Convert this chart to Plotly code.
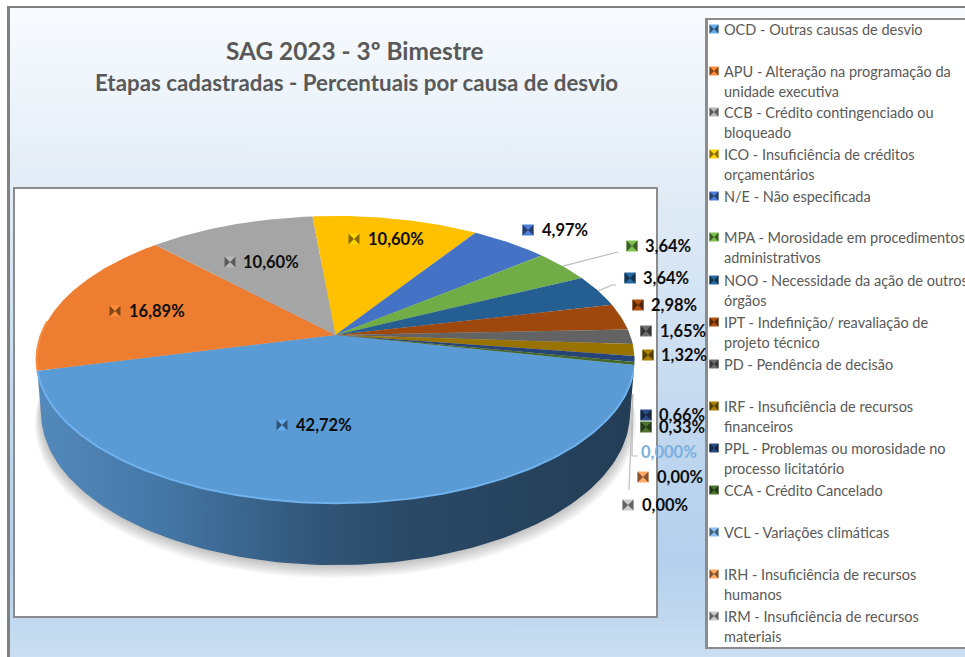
import math
import numpy as np
import plotly.graph_objects as go

# ---------- data ----------
LEGEND_LABELS = [
    "OCD - Outras causas de desvio",
    "APU - Alteração na programação da<br>unidade executiva",
    "CCB - Crédito contingenciado ou<br>bloqueado",
    "ICO - Insuficiência de créditos<br>orçamentários",
    "N/E - Não especificada",
    "MPA - Morosidade em procedimentos<br>administrativos",
    "NOO - Necessidade da ação de outros<br>órgãos",
    "IPT - Indefinição/ reavaliação de<br>projeto técnico",
    "PD - Pendência de decisão",
    "IRF - Insuficiência de recursos<br>financeiros",
    "PPL - Problemas ou morosidade no<br>processo licitatório",
    "CCA - Crédito Cancelado",
    "VCL - Variações climáticas",
    "IRH - Insuficiência de recursos<br>humanos",
    "IRM - Insuficiência de recursos<br>materiais",
]
VALUES = [42.72, 16.89, 10.60, 10.60, 4.97, 3.64, 3.64, 2.98, 1.65, 1.32, 0.66, 0.33, 0.0, 0.0, 0.0]
VALUE_LABELS = ["42,72%", "16,89%", "10,60%", "10,60%", "4,97%", "3,64%", "3,64%", "2,98%",
                "1,65%", "1,32%", "0,66%", "0,33%", "0,000%", "0,00%", "0,00%"]
TITLE = "SAG 2023 - 3º Bimestre"
SUBTITLE = "Etapas cadastradas - Percentuais por causa de desvio"

# ---------- style ----------
COLORS = ["#5B9BD5", "#ED7D31", "#A5A5A5", "#FFC000", "#4472C4", "#70AD47", "#255E91", "#9E480E",
          "#636363", "#997300", "#264478", "#43682B", "#7CAFDD", "#F1975A", "#B7B7B7"]
FONT = "Lato"
W, H_PAGE = 965, 657
CX, CY, R, H, K = 335.5, 335, 294.6, 139.4, 0.171
DEPTH, BOTTOM_SCALE = 51.4, 0.985
START_DEG = 102.0

# label layout: marker x, text x, y
LABEL_POS = [(282, 294, 425), (115, 127, 311), (230, 241, 262), (354, 366, 239), (528, 540, 230),
             (632, 643, 246), (630, 641, 278), (638, 649, 305), (646, 658, 331), (648, 659, 355),
             (646, 657, 415), (646, 657, 427), (None, 639, 452), (643, 655, 477), (628, 640, 505)]
LEGEND_Y = [29, 71, 112, 154, 196, 237, 280, 322, 364, 406, 448, 490, 532, 574, 616]
LINE_H = 20


def proj(theta_deg, depth=0.0, scale=1.0):
    t = np.radians(theta_deg)
    u, v = np.sin(t), np.cos(t)
    s = 1.0 / (1.0 + K * v)
    x = R * u * s * scale
    y = -H * v * s + depth * s
    return CX + x, CY + y


def shade(hexc, f):
    r, g, b = int(hexc[1:3], 16), int(hexc[3:5], 16), int(hexc[5:7], 16)
    return "#%02x%02x%02x" % tuple(int(min(255, max(0, c * f))) for c in (r, g, b))


def rect(x0, y0, x1, y1):
    return [x0, x1, x1, x0, x0], [y0, y0, y1, y1, y0]


fig = go.Figure()


def add_poly(xs, ys, **kw):
    fig.add_trace(go.Scatter(x=list(xs), y=list(ys), mode="lines", fill="toself",
                             line=dict(width=0), hoverinfo="skip", showlegend=False, **kw))


# ---------- panels ----------
x, y = rect(7, 6, 965, 657)
add_poly(x, y, fillcolor="#808080")
x, y = rect(10, 8, 965, 657)
add_poly(x, y, fillgradient=dict(type="vertical", colorscale=[
    [0, "#cbdff2"], [0.06, "#c0d8ef"], [0.15, "#b4d0ec"], [0.3, "#bdd5ee"], [0.7, "#e0ebf6"], [1, "#f8fbfe"]]))
x, y = rect(13, 187, 658, 618)
add_poly(x, y, fillcolor="#8c8c8c")
x, y = rect(15, 189, 656, 616)
add_poly(x, y, fillcolor="#ffffff")
x, y = rect(705, 18, 965, 649)
add_poly(x, y, fillcolor="#8c8c8c")
x, y = rect(708, 20, 965, 647)
add_poly(x, y, fillcolor="#ffffff")

# ---------- pie geometry from the values ----------
total = sum(VALUES)
spans = [v / total * 360 for v in VALUES]
edges = START_DEG + np.concatenate([[0], np.cumsum(spans)])

# soft shadow below the wall
full = np.linspace(0, 360, 241)
for i in range(8):
    gx, gy = proj(full, DEPTH + 1 + 1.4 * i, BOTTOM_SCALE + 0.003 * i)
    add_poly(gx, gy, fillcolor="rgba(0,0,0,0.03)")

# side wall, visible part of the rim only
vis0 = math.degrees(math.acos(-K))
vis1 = 360 - vis0
for i in range(len(VALUES)):
    a0, a1 = max(edges[i], vis0), min(edges[i + 1], vis1)
    if a1 <= a0:
        continue
    th = np.linspace(a0, a1, 120)
    tx, ty = proj(th)
    bx, by = proj(th[::-1], DEPTH, BOTTOM_SCALE)
    xs, ys = np.concatenate([tx, bx, tx[:1]]), np.concatenate([ty, by, ty[:1]])
    if i == 0:
        add_poly(xs, ys, fillgradient=dict(type="horizontal", colorscale=[
            [0, "#5489bc"], [0.2, "#4578a7"], [0.45, "#33587b"], [0.6, "#2a4a68"], [1, "#233d55"]]))
    else:
        add_poly(xs, ys, fillcolor=shade(COLORS[i], 0.55))

# top face slices
for i, v in enumerate(VALUES):
    if v <= 0:
        continue
    th = np.linspace(edges[i], edges[i + 1], max(4, int(spans[i] * 2)))
    px, py = proj(th)
    add_poly(np.concatenate([[CX], px, [CX]]), np.concatenate([[CY], py, [CY]]), fillcolor=COLORS[i])

# bevel highlights on the rim
th = np.linspace(edges[0] + 3, edges[1], 160)
px, py = proj(th)
fig.add_trace(go.Scatter(x=px, y=py, mode="lines", line=dict(color="#6fb2ee", width=2),
                         hoverinfo="skip", showlegend=False))
th = np.linspace(edges[1], edges[1] + 20, 40)
px, py = proj(th)
fig.add_trace(go.Scatter(x=px, y=py, mode="lines", line=dict(color="#f78d3f", width=2),
                         hoverinfo="skip", showlegend=False))

# ---------- leader lines ----------
GREY = "#bdbdbd"
mx, my = proj((edges[5] + edges[6]) / 2)
nx, ny = proj((edges[6] + edges[7]) / 2)
zx, zy = proj(edges[12], DEPTH * 0.55, 0.995)
LEADERS = [([mx, 618], [my, 252]), ([nx, 612, 616], [ny, 285, 285]),
           ([zx, 632, 638], [zy, 456, 456]), ([zx, 629], [zy, 490])]
for lx, ly in LEADERS:
    fig.add_trace(go.Scatter(x=lx, y=ly, mode="lines", line=dict(color=GREY, width=1.2),
                             hoverinfo="skip", showlegend=False))


# ---------- keys ----------
def add_keys(xs, ys, cols, size):
    fig.add_trace(go.Scatter(x=xs, y=ys, mode="markers", hoverinfo="skip", showlegend=False,
                             marker=dict(symbol="square", size=size, color=[shade(c, 1.12) for c in cols])))
    fig.add_trace(go.Scatter(x=xs, y=ys, mode="markers", hoverinfo="skip", showlegend=False,
                             marker=dict(symbol="bowtie", size=size, color=[shade(c, 0.55) for c in cols],
                                         line=dict(width=0))))


lab = [(p, c) for p, c in zip(LABEL_POS, COLORS) if p[0] is not None]
add_keys([p[0] for p, _ in lab], [p[2] for p, _ in lab], [c for _, c in lab], 11)
add_keys([714] * len(COLORS), LEGEND_Y, COLORS, 9)

# ---------- text ----------
ann = []
for txt, (_, tx, ty), col in zip(VALUE_LABELS, LABEL_POS, COLORS):
    is_light = txt == "0,000%"
    ann.append(dict(x=tx, y=ty, text=txt, xanchor="left", yanchor="middle", showarrow=False,
                    xref="x", yref="y",
                    font=dict(family=FONT, size=16.5, color="#7CAFDD" if is_light else "#0d0d0d",
                              weight="bold")))
for label, ly in zip(LEGEND_LABELS, LEGEND_Y):
    for j, line in enumerate(label.split("<br>")):
        ann.append(dict(x=721.5, y=ly + j * LINE_H, text=line, xanchor="left", yanchor="middle", showarrow=False,
                        xref="x", yref="y", font=dict(family=FONT, size=14.5, color="#595959")))
ann.append(dict(x=355, y=50, text=TITLE, showarrow=False, xref="x", yref="y",
                font=dict(family=FONT, size=24.4, color="#595959", weight="bold")))
ann.append(dict(x=356, y=82, text=SUBTITLE, showarrow=False, xref="x", yref="y",
                font=dict(family=FONT, size=22.3, color="#595959", weight="bold")))

fig.update_layout(
    width=W, height=H_PAGE, margin=dict(l=0, r=0, t=0, b=0),
    paper_bgcolor="#ffffff", plot_bgcolor="#ffffff", showlegend=False, annotations=ann,
    xaxis=dict(range=[0, W], visible=False, fixedrange=True),
    yaxis=dict(range=[H_PAGE, 0], visible=False, fixedrange=True),
)
fig.write_html("out.html", config={"displayModeBar": False},
               post_script="document.body.style.margin='0';document.body.style.overflow='hidden';")
